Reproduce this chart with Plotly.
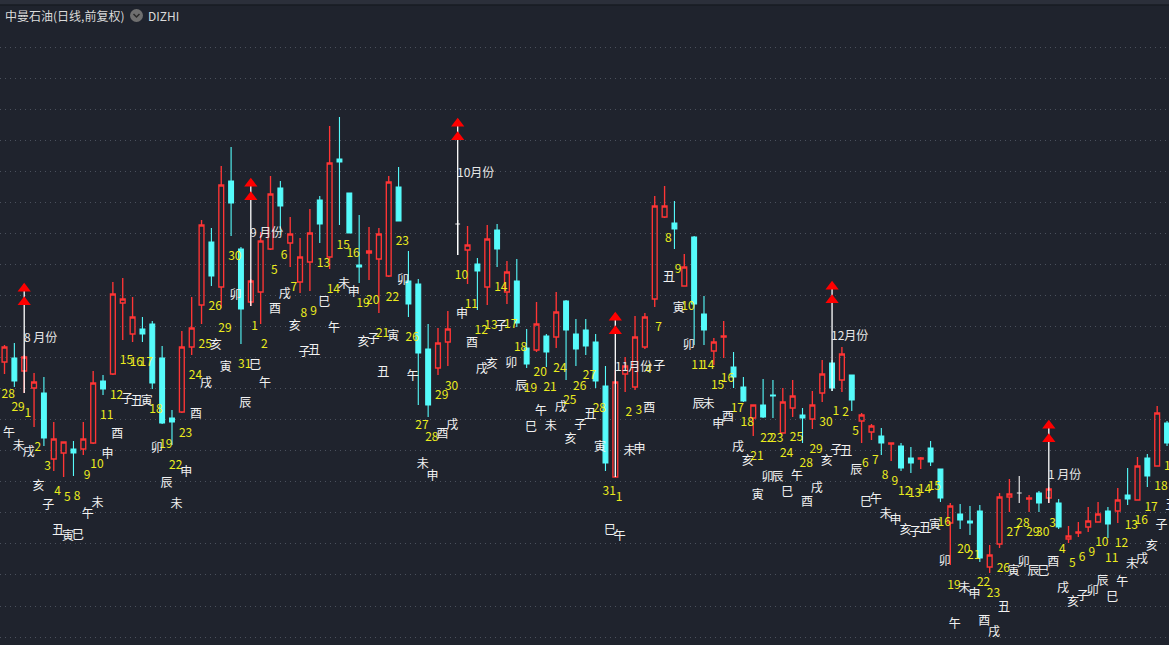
import plotly.graph_objects as go

# ---------------- data ----------------
DAY = [28, 29,
       1, 2, 3, 4, 5, 8, 9, 10, 11, 12, 15, 16, 17, 18, 19, 22, 23, 24, 25, 26, 29, 30, 31,
       1, 2, 5, 6, 7, 8, 9, 13, 14, 15, 16, 19, 20, 21, 22, 23, 26, 27, 28, 29, 30,
       10, 11, 12, 13, 14, 17, 18, 19, 20, 21, 24, 25, 26, 27, 28, 31,
       1, 2, 3, 4, 7, 8, 9, 10, 11, 14, 15, 16, 17, 18, 21, 22, 23, 24, 25, 28, 29, 30,
       1, 2, 5, 6, 7, 8, 9, 12, 13, 14, 15, 16, 19, 20, 21, 22, 23, 26, 27, 28, 29, 30,
       3, 4, 5, 6, 9, 10, 11, 12, 13, 16, 17, 18, 19]

BRANCH = ["午", "未",
          "戌", "亥", "子", "丑", "寅", "巳", "午", "未", "申", "酉", "子", "丑", "寅", "卯", "辰",
          "未", "申", "酉", "戌", "亥", "寅", "卯", "辰",
          "巳", "午", "酉", "戌", "亥", "子", "丑", "巳", "午", "未", "申", "亥", "子", "丑", "寅",
          "卯", "午", "未", "申", "酉", "戌",
          "申", "酉", "戌", "亥", "子", "卯", "辰", "巳", "午", "未", "戌", "亥", "子", "丑", "寅", "巳",
          "午", "未", "申", "酉", "子", "丑", "寅", "卯", "辰", "未", "申", "酉", "戌", "亥", "寅",
          "卯", "辰", "巳", "午", "酉", "戌", "亥",
          "子", "丑", "辰", "巳", "午", "未", "申", "亥", "子", "丑", "寅", "卯", "午", "未", "申",
          "酉", "戌", "丑", "寅", "卯", "辰", "巳",
          "酉", "戌", "亥", "子", "卯", "辰", "巳", "午", "未", "戌", "亥", "子", "丑"]

OPEN = [16.38, 16.42, 16.29, 16.12, 16.07, 15.41, 15.47, 15.51, 15.51, 15.57,
        16.19, 16.26, 16.97, 16.66, 16.71, 16.76, 16.42, 15.82, 15.88, 16.53,
        16.95, 17.58, 17.13, 18.19, 17.51, 16.98, 17.08, 17.51, 18.12, 17.57,
        17.18, 17.38, 18.00, 17.43, 18.41, 18.07, 17.35, 17.47, 17.41, 17.24,
        18.13, 17.19, 17.16, 16.51, 16.32, 16.58, 17.76, 17.50, 17.36, 17.13,
        17.70, 17.08, 17.19, 16.52, 16.50, 16.64, 16.63, 16.99, 16.66, 16.70,
        16.58, 16.14, 15.23, 16.26, 16.13, 16.53, 17.01, 17.83, 17.77, 17.14,
        17.63, 16.86, 16.49, 16.63, 16.33, 16.13, 15.82, 15.95, 16.05, 15.67,
        15.92, 15.85, 15.81, 16.07, 16.37, 16.20, 16.25, 15.79, 15.68, 15.64,
        15.56, 15.54, 15.42, 15.41, 15.52, 15.31, 14.77, 14.86, 14.79, 14.89,
        14.33, 14.56, 15.03, 15.07, 15.01, 15.07, 15.02, 14.97, 14.61, 14.67,
        14.73, 14.78, 14.89, 14.89, 15.05, 15.00, 15.42, 15.34, 15.77]

HIGH = [16.55, 16.57, 16.45, 16.27, 16.23, 15.78, 15.58, 15.59, 15.78, 16.29,
        16.25, 17.18, 17.22, 17.03, 16.83, 16.79, 16.54, 15.90, 16.69, 17.03,
        17.80, 17.72, 18.34, 18.53, 17.53, 17.21, 17.68, 18.24, 18.19, 17.83,
        17.62, 17.91, 18.04, 18.74, 18.83, 18.07, 17.85, 17.73, 17.72, 18.24,
        18.33, 17.49, 17.21, 16.76, 16.72, 16.89, 17.80, 17.74, 17.42, 17.75,
        17.76, 17.39, 17.41, 16.71, 16.98, 16.66, 17.08, 17.00, 16.81, 16.81,
        16.66, 16.34, 16.30, 16.43, 16.84, 16.87, 18.04, 18.14, 17.99, 17.46,
        17.64, 17.04, 16.62, 16.79, 16.48, 16.23, 15.95, 16.21, 16.20, 16.12,
        16.20, 15.92, 16.09, 16.40, 16.40, 16.53, 16.25, 15.87, 15.76, 15.72,
        15.57, 15.57, 15.53, 15.43, 15.59, 15.31, 14.97, 14.96, 14.94, 14.95,
        14.55, 15.07, 15.21, 15.24, 15.05, 15.09, 15.13, 15.01, 14.74, 14.78,
        14.93, 14.98, 14.93, 15.12, 15.32, 15.43, 15.46, 15.94, 15.79]

LOW = [16.26, 16.13, 16.07, 15.73, 15.54, 15.29, 15.23, 15.24, 15.45, 15.56,
       16.05, 16.25, 16.60, 16.58, 16.58, 16.11, 15.76, 15.55, 15.87, 16.45,
       16.76, 17.14, 16.92, 17.64, 16.56, 16.94, 16.76, 17.50, 17.65, 17.33,
       17.07, 17.09, 17.57, 17.31, 17.75, 17.67, 17.17, 17.20, 16.87, 17.23,
       17.79, 16.83, 15.95, 15.83, 16.25, 16.34, 17.45, 17.16, 16.90, 16.95,
       17.33, 16.96, 16.73, 16.32, 16.48, 16.33, 16.52, 16.20, 16.34, 16.45,
       16.12, 15.29, 15.23, 16.08, 16.10, 16.51, 16.93, 17.82, 17.51, 17.14,
       16.55, 16.55, 16.35, 16.42, 16.12, 15.98, 15.64, 15.82, 15.82, 15.67,
       15.83, 15.57, 15.71, 15.98, 16.09, 16.08, 15.89, 15.57, 15.60, 15.45,
       15.39, 15.29, 15.27, 15.31, 15.34, 14.98, 14.35, 14.71, 14.65, 14.38,
       14.27, 14.52, 14.88, 14.97, 14.88, 14.88, 14.97, 14.71, 14.57, 14.63,
       14.68, 14.78, 14.62, 14.77, 14.95, 15.00, 15.13, 15.34, 15.54]

CLOSE = [16.53, 16.19, 16.43, 16.18, 15.62, 15.61, 15.58, 15.47, 15.61, 16.17,
         16.11, 17.06, 17.01, 16.83, 16.66, 16.17, 15.77, 15.78, 16.53, 16.72,
         17.75, 17.24, 18.15, 17.97, 16.91, 17.19, 17.59, 18.06, 17.94, 17.66,
         17.43, 17.67, 17.76, 18.37, 18.38, 17.67, 17.33, 17.49, 17.66, 18.18,
         17.79, 16.96, 16.47, 15.95, 16.57, 16.71, 17.76, 17.55, 17.29, 17.61,
         17.51, 17.28, 16.77, 16.36, 16.76, 16.48, 16.88, 16.70, 16.51, 16.54,
         16.19, 15.37, 16.18, 16.34, 16.63, 16.83, 17.94, 17.94, 17.71, 17.33,
         16.96, 16.70, 16.58, 16.64, 16.23, 15.99, 15.95, 15.83, 16.04, 15.98,
         16.04, 15.82, 15.95, 16.26, 16.12, 16.46, 16.00, 15.85, 15.74, 15.57,
         15.57, 15.32, 15.37, 15.42, 15.38, 15.02, 14.94, 14.80, 14.77, 14.42,
         14.45, 15.03, 15.06, 15.07, 15.02, 14.97, 15.11, 14.73, 14.64, 14.68,
         14.79, 14.86, 14.76, 15.00, 15.01, 15.34, 15.24, 15.87, 15.57]

MONTH_IDX = [2, 25, 46, 62, 84, 106]          # first trading day of each month
MONTH_NUM = [8, 9, 10, 11, 12, 1]
MONTH_ARROW = [17.17, 18.22, 18.82, 16.88, 17.19, 15.80]   # arrow tip level

TITLE = "中曼石油(日线,前复权)"
INDICATOR = "DIZHI"

# ---------------- styling ----------------
BG = "#1f232d"
RED = "#ff3535"
CYAN = "#55fbfb"
FLAT = "#e6e6e6"
YELLOW = "#ebeb1e"
WHITE = "#f2f2f2"
FONT = "Noto Sans CJK SC"
W, H = 1169, 645

N = len(OPEN)
X = list(range(N))

fig = go.Figure()

# month marker vertical lines (drawn below candles)
lx, ly = [], []
for i, a in zip(MONTH_IDX, MONTH_ARROW):
    lx += [i, i, None]
    ly += [LOW[i], a - 0.01, None]
fig.add_trace(go.Scatter(x=lx, y=ly, mode="lines", line=dict(color="#ffffff", width=1.3),
                         hoverinfo="skip", showlegend=False))

up = [i for i in X if CLOSE[i] > OPEN[i]]
dn = [i for i in X if CLOSE[i] < OPEN[i]]
fl = [i for i in X if CLOSE[i] == OPEN[i]]


def candle(idx, inc_line, inc_fill, dec_line, dec_fill, lw):
    return go.Candlestick(
        x=idx,
        open=[OPEN[i] for i in idx], high=[HIGH[i] for i in idx],
        low=[LOW[i] for i in idx], close=[CLOSE[i] for i in idx],
        increasing=dict(line=dict(color=inc_line, width=lw), fillcolor=inc_fill),
        decreasing=dict(line=dict(color=dec_line, width=lw), fillcolor=dec_fill),
        whiskerwidth=0, hoverinfo="skip", showlegend=False)


fig.add_trace(candle(up, RED, "rgba(0,0,0,0)", RED, "rgba(0,0,0,0)", 1.35))
fig.add_trace(candle(dn, CYAN, CYAN, CYAN, CYAN, 1.1))
fig.add_trace(candle(fl, FLAT, FLAT, FLAT, FLAT, 1.2))

# double red arrows
tx, ty = [], []
for i, a in zip(MONTH_IDX, MONTH_ARROW):
    tx += [i, i]
    ty += [a - 0.055, a - 0.19]
fig.add_trace(go.Scatter(x=tx, y=ty, mode="markers",
                         marker=dict(symbol="triangle-up", size=11.5, color="#ff0000", line=dict(width=0)),
                         hoverinfo="skip", showlegend=False))

# day-of-month labels (yellow) and day-branch labels (white)
fig.add_trace(go.Scatter(x=[i + 0.38 for i in X], y=[LOW[i] - 0.21 for i in X],
                         mode="text", text=[str(d) for d in DAY],
                         textfont=dict(color=YELLOW, size=12, family=FONT),
                         hoverinfo="skip", showlegend=False))
fig.add_trace(go.Scatter(x=[i + 0.45 for i in X], y=[LOW[i] - 0.60 for i in X],
                         mode="text", text=BRANCH,
                         textfont=dict(color=WHITE, size=12, family=FONT),
                         hoverinfo="skip", showlegend=False))

# month labels
for i, m, a in zip(MONTH_IDX, MONTH_NUM, MONTH_ARROW):
    fig.add_annotation(x=i - 0.27, y=a - 0.53, text=f"{m:<2}月份".replace(" ", "&nbsp;"),
                       showarrow=False, xanchor="left", yanchor="middle",
                       font=dict(color="#e8e8e8", size=12, family=FONT))

# top tool strip (cut off at the window edge)
fig.add_shape(type="rect", xref="paper", yref="paper", x0=0, x1=1,
              y0=1 - 4.5 / H, y1=1, fillcolor="#2b2f3a", line=dict(width=0), layer="above")
fig.add_shape(type="line", xref="paper", yref="paper", x0=0, x1=1,
              y0=1 - 5 / H, y1=1 - 5 / H, line=dict(color="#15181f", width=1), layer="above")

# header
fig.add_annotation(xref="paper", yref="paper", x=3 / W, y=1 - 15 / H, text=TITLE,
                   showarrow=False, xanchor="left", yanchor="middle",
                   font=dict(color="#dadada", size=12, family=FONT))
fig.add_annotation(xref="paper", yref="paper", x=146 / W, y=1 - 15 / H, text=INDICATOR,
                   showarrow=False, xanchor="left", yanchor="middle",
                   font=dict(color="#dadada", size=12, family=FONT))
cx, cy, r = 136.5, 15.5, 6.5
fig.add_shape(type="circle", xref="paper", yref="paper",
              x0=(cx - r) / W, x1=(cx + r) / W, y0=1 - (cy + r) / H, y1=1 - (cy - r) / H,
              fillcolor="#6f6f6f", line=dict(width=0))


def P(px, py):
    return f"{px / W:.5f},{1 - py / H:.5f}"


fig.add_shape(type="path", xref="paper", yref="paper",
              path=f"M{P(cx - 3, cy - 1.5)} L{P(cx, cy + 1.5)} L{P(cx + 3, cy - 1.5)}",
              line=dict(color="#2b2b2b", width=1.5))

# grid levels every 31.05 px starting at y=47
grid = [20 - (47.1 + 31.05 * k) / 100 for k in range(20)]

fig.update_layout(
    width=W, height=H, margin=dict(l=0, r=0, t=0, b=0),
    paper_bgcolor=BG, plot_bgcolor=BG,
    xaxis=dict(range=[-0.457, 118.2], visible=False, rangeslider=dict(visible=False),
               showgrid=False, zeroline=False),
    yaxis=dict(range=[20 - H / 100, 20], tickvals=grid, showticklabels=False,
               showgrid=True, gridcolor="#4a505c", griddash="1px,4px", gridwidth=1,
               zeroline=False, ticks=""),
    showlegend=False, boxgap=0.3,
)

fig.write_html("out.html", post_script="document.body.style.margin='0';")
